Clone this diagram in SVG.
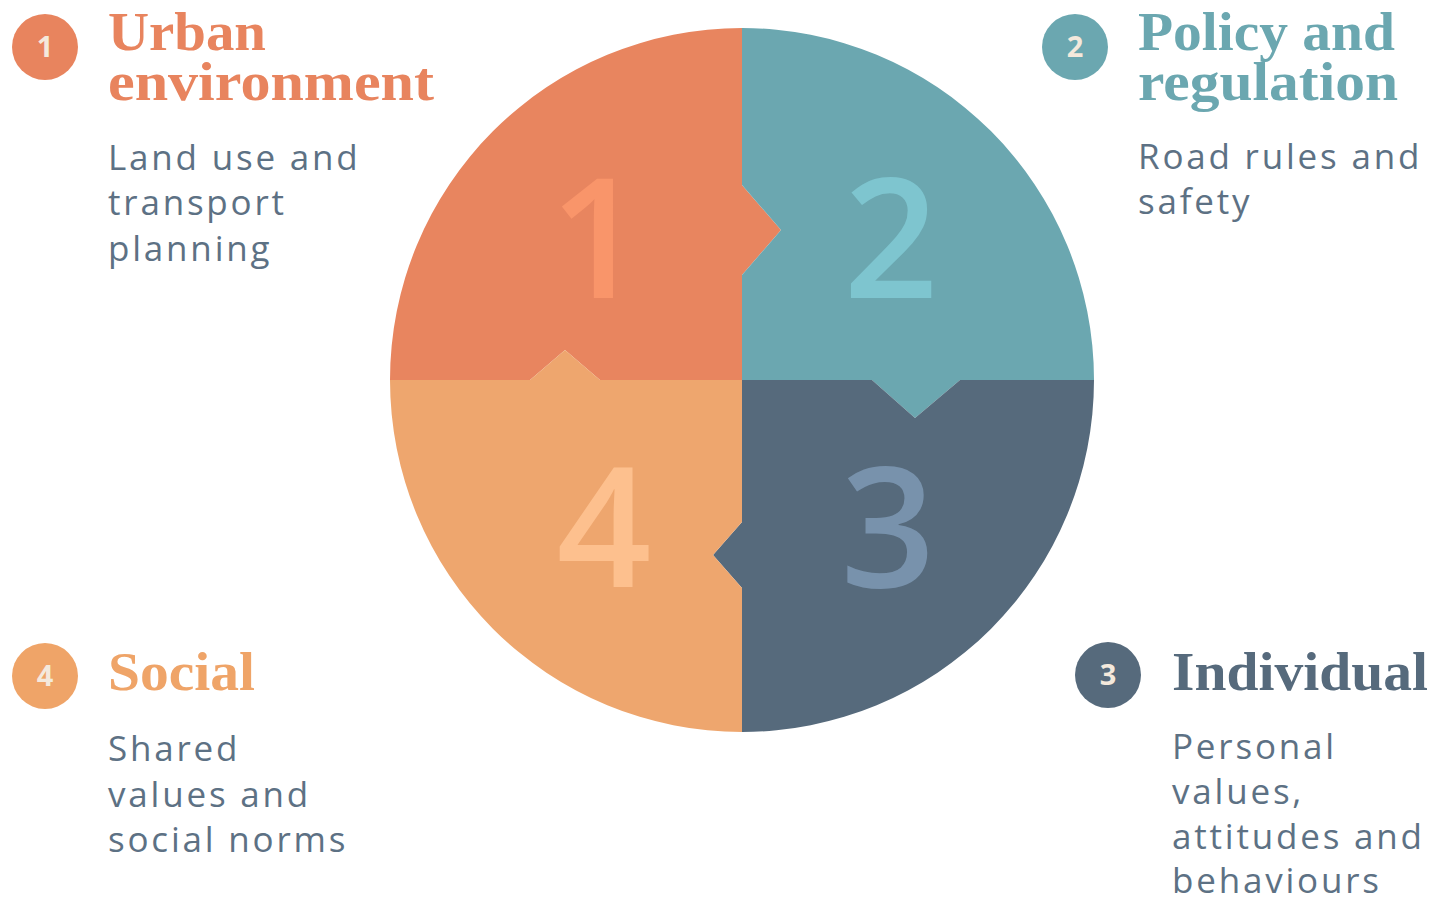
<svg xmlns="http://www.w3.org/2000/svg" width="1433" height="902" viewBox="0 0 1433 902">
<style>
.title{font-family:"Liberation Serif","DejaVu Serif",serif;font-weight:bold;font-size:55px}
.body{font-family:"Open Sans","Liberation Sans",sans-serif;font-size:35px;fill:#5D7184;letter-spacing:2.8px}
.badge{font-family:"Open Sans","Liberation Sans",sans-serif;font-weight:bold;font-size:29px;fill:#F4E9DC;text-anchor:middle}
.big{font-family:"Open Sans","Liberation Sans",sans-serif;font-weight:600;font-size:166px;text-anchor:middle}
</style>
<rect width="1433" height="902" fill="#ffffff"/>
<g id="puzzle">
  <path id="q1" d="M742,380 L742,275 L781,230 L742,185 L742,28 A352,352 0 0 0 390,380 L530,380 L565,350 L600,380 Z" fill="#E8855F"/>
  <path id="q2" d="M742,28 L742,185 L781,230 L742,275 L742,380 L872,380 L915,418 L960,380 L1094,380 A352,352 0 0 0 742,28 Z" fill="#6BA7B0"/>
  <path id="q3" d="M1094,380 L960,380 L915,418 L872,380 L742,380 L742,522 L713,555 L742,588 L742,732 A352,352 0 0 0 1094,380 Z" fill="#566A7C"/>
  <path id="q4" d="M742,732 L742,588 L713,555 L742,522 L742,380 L600,380 L565,350 L530,380 L390,380 A352,352 0 0 0 742,732 Z" fill="#EEA66E"/>
  <text class="big" x="597" y="298" fill="#F9956A">1</text>
  <text class="big" x="891" y="298" fill="#7EC5CF">2</text>
  <text class="big" x="888" y="587" fill="#7892AC">3</text>
  <text class="big" x="604" y="587" fill="#FDC08E">4</text>
</g>
<g id="node1">
  <circle cx="45" cy="47" r="33" fill="#E8845E"/>
  <text class="badge" x="45" y="57">1</text>
  <text class="title" fill="#E8845E" x="108" y="50" textLength="158" lengthAdjust="spacingAndGlyphs">Urban</text>
  <text class="title" fill="#E8845E" x="108" y="100" textLength="326" lengthAdjust="spacingAndGlyphs">environment</text>
  <text class="body" x="108" y="170">Land use and</text>
  <text class="body" x="108" y="215">transport</text>
  <text class="body" x="108" y="261">planning</text>
</g>
<g id="node2">
  <circle cx="1075" cy="47" r="33" fill="#6BA7B0"/>
  <text class="badge" x="1075" y="57">2</text>
  <text class="title" fill="#6BA7B0" x="1138" y="50" textLength="257" lengthAdjust="spacingAndGlyphs">Policy and</text>
  <text class="title" fill="#6BA7B0" x="1138" y="100" textLength="260" lengthAdjust="spacingAndGlyphs">regulation</text>
  <text class="body" x="1138" y="169">Road rules and</text>
  <text class="body" x="1138" y="214">safety</text>
</g>
<g id="node3">
  <circle cx="1108" cy="675" r="33" fill="#566A7C"/>
  <text class="badge" x="1108" y="685">3</text>
  <text class="title" fill="#566A7C" x="1172" y="690" textLength="256" lengthAdjust="spacingAndGlyphs">Individual</text>
  <text class="body" x="1172" y="759">Personal</text>
  <text class="body" x="1172" y="804">values,</text>
  <text class="body" x="1172" y="849">attitudes and</text>
  <text class="body" x="1172" y="893">behaviours</text>
</g>
<g id="node4">
  <circle cx="45" cy="676" r="33" fill="#EFA468"/>
  <text class="badge" x="45" y="686">4</text>
  <text class="title" fill="#EFA468" x="108" y="690" textLength="147" lengthAdjust="spacingAndGlyphs">Social</text>
  <text class="body" x="108" y="761">Shared</text>
  <text class="body" x="108" y="807">values and</text>
  <text class="body" x="108" y="852">social norms</text>
</g>
<g id="connectors"></g>
</svg>
